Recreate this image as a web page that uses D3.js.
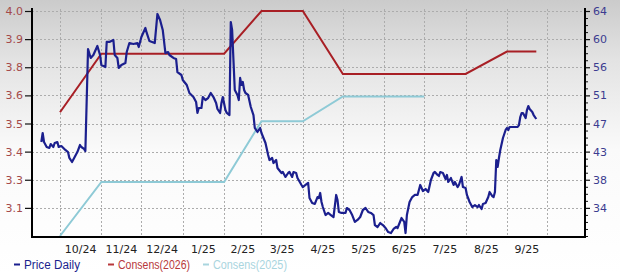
<!DOCTYPE html>
<html><head><meta charset="utf-8">
<script src="https://cdn.jsdelivr.net/npm/d3@7"></script>
<style>body{margin:0;background:#fff}svg{display:block}</style>
</head><body><svg id="c" width="620" height="273"></svg>
<script>
// ---- data ----
const priceDates = [
"2024-09-17","2024-09-18","2024-09-19","2024-09-21","2024-09-23","2024-09-24","2024-09-26","2024-09-27","2024-09-29","2024-09-30",
"2024-10-02","2024-10-05","2024-10-07","2024-10-08","2024-10-10","2024-10-12","2024-10-14","2024-10-16","2024-10-17","2024-10-19",
"2024-10-20","2024-10-22","2024-10-24","2024-10-26","2024-10-29","2024-10-31","2024-11-01","2024-11-04","2024-11-05","2024-11-07",
"2024-11-10","2024-11-11","2024-11-13","2024-11-14","2024-11-16","2024-11-19","2024-11-20","2024-11-22","2024-11-25","2024-11-28",
"2024-11-29","2024-12-01","2024-12-04","2024-12-05","2024-12-07","2024-12-09","2024-12-11","2024-12-13","2024-12-15","2024-12-17",
"2024-12-19","2024-12-21","2024-12-22","2024-12-25","2024-12-27","2024-12-28","2024-12-31","2025-01-01","2025-01-04","2025-01-06",
"2025-01-09","2025-01-11","2025-01-12","2025-01-13","2025-01-15","2025-01-16","2025-01-18","2025-01-20","2025-01-22","2025-01-24",
"2025-01-26","2025-01-27","2025-01-29","2025-01-30","2025-01-31","2025-02-02","2025-02-03","2025-02-05","2025-02-06","2025-02-07",
"2025-02-08","2025-02-09","2025-02-11","2025-02-12","2025-02-13","2025-02-14","2025-02-15","2025-02-16","2025-02-17","2025-02-19",
"2025-02-21","2025-02-23","2025-02-24","2025-02-26","2025-02-27","2025-02-28","2025-03-01","2025-03-04","2025-03-06","2025-03-07",
"2025-03-09","2025-03-10","2025-03-12","2025-03-13","2025-03-16","2025-03-17","2025-03-19","2025-03-21","2025-03-22","2025-03-24",
"2025-03-25","2025-03-27","2025-03-28","2025-03-31","2025-04-01","2025-04-03","2025-04-05","2025-04-06","2025-04-08","2025-04-10",
"2025-04-12","2025-04-13","2025-04-14","2025-04-15","2025-04-16","2025-04-18","2025-04-20","2025-04-22","2025-04-24","2025-04-26",
"2025-04-27","2025-04-28","2025-04-30","2025-05-03","2025-05-04","2025-05-06","2025-05-08","2025-05-10","2025-05-12","2025-05-14",
"2025-05-16","2025-05-18","2025-05-20","2025-05-22","2025-05-24","2025-05-25","2025-05-27","2025-05-29","2025-05-31","2025-06-02",
"2025-06-04","2025-06-06","2025-06-08","2025-06-10","2025-06-11","2025-06-14","2025-06-16","2025-06-17","2025-06-18","2025-06-20",
"2025-06-22","2025-06-24","2025-06-26","2025-06-28","2025-06-29","2025-06-30","2025-07-02","2025-07-04","2025-07-06","2025-07-08",
"2025-07-09","2025-07-11","2025-07-12","2025-07-13","2025-07-15","2025-07-17","2025-07-18","2025-07-19","2025-07-21","2025-07-23",
"2025-07-24","2025-07-26","2025-07-27","2025-07-29","2025-07-30","2025-08-01","2025-08-02","2025-08-04","2025-08-06","2025-08-08",
"2025-08-10","2025-08-11","2025-08-13","2025-08-14","2025-08-16","2025-08-18","2025-08-19","2025-08-21","2025-08-22","2025-08-23",
"2025-08-24","2025-08-25","2025-08-26","2025-08-27","2025-08-29","2025-08-31","2025-09-01","2025-09-02","2025-09-03","2025-09-06",
"2025-09-09","2025-09-10","2025-09-11","2025-09-12","2025-09-13","2025-09-15","2025-09-16","2025-09-17","2025-09-18","2025-09-20",
"2025-09-21","2025-09-23"];
const priceValues = [
44.20,45.56,44.20,43.45,43.30,43.90,43.45,44.05,44.20,43.45,
43.60,43.00,42.69,41.79,41.18,41.94,42.69,43.75,43.45,43.15,
42.84,58.26,56.90,57.35,58.71,57.35,55.84,55.54,59.32,59.32,
59.62,57.35,56.90,55.39,55.84,56.14,57.80,59.16,59.01,59.16,
58.56,60.07,61.43,60.68,59.47,59.32,59.16,63.55,62.64,61.13,
57.65,57.80,57.35,56.90,56.75,54.78,54.33,53.57,52.82,51.61,
51.00,50.25,48.59,49.34,49.34,51.00,50.55,50.85,51.61,51.00,
50.10,49.19,48.59,50.10,51.00,49.04,48.59,48.28,62.34,61.13,
56.60,52.06,51.31,50.55,53.88,52.82,53.27,52.06,51.61,51.31,
49.49,48.28,46.32,45.72,46.02,46.32,45.56,44.05,42.24,41.48,
41.79,41.03,41.48,40.28,39.52,39.67,38.92,39.52,39.67,38.92,
39.67,39.52,38.76,37.71,37.40,37.71,38.01,35.74,34.99,34.84,
35.89,35.74,36.50,35.14,34.38,33.17,33.48,33.17,32.87,36.20,
35.44,33.63,33.48,33.48,34.23,33.93,33.17,32.12,32.42,32.87,
33.93,34.23,33.63,33.48,33.17,31.66,31.36,31.96,31.66,31.21,
30.60,30.45,31.06,31.36,31.21,32.72,32.12,30.45,33.17,35.14,
35.89,36.20,36.20,37.71,37.25,36.80,37.10,36.65,38.46,39.52,
39.67,39.22,39.07,39.67,39.52,38.61,39.22,38.16,38.76,37.71,
38.16,37.40,37.71,38.92,37.40,37.25,36.20,35.14,34.38,34.68,
34.38,34.68,34.08,34.84,34.99,35.89,36.65,36.04,35.89,36.65,
41.48,40.43,41.79,43.00,44.81,46.02,46.32,46.02,46.47,46.47,
46.47,46.77,47.98,48.59,48.59,47.83,49.04,49.64,49.19,48.74,
48.28,47.68];

const cons2026Dates = ["2024-10-01","2024-11-01","2024-12-01","2025-01-01","2025-02-01","2025-03-01","2025-04-01","2025-05-01","2025-06-01","2025-07-01","2025-08-01","2025-09-01","2025-09-23"];
const cons2026 = [3.55,3.81,3.81,3.81,3.81,4.00,4.00,3.72,3.72,3.72,3.72,3.82,3.82];
const cons2025Dates = ["2024-10-01","2024-11-01","2024-12-01","2025-01-01","2025-02-01","2025-03-01","2025-04-01","2025-05-01","2025-06-01","2025-07-01"];
const cons2025 = [3.00,3.24,3.24,3.24,3.24,3.51,3.51,3.62,3.62,3.62];

const monthLabels = ["10/24","11/24","12/24","1/25","2/25","3/25","4/25","5/25","6/25","7/25","8/25","9/25"];
const leftTickValues = [3.125,3.25,3.375,3.5,3.625,3.75,3.875,4.0];
const leftTickLabels = ["3.1","3.3","3.4","3.5","3.6","3.8","3.9","4.0"];
const rightTickValues = [34.25,38.5,42.75,47,51.25,55.5,59.75,64];
const rightTickLabels = ["34","38","43","47","51","56","60","64"];
const legendItems = ["Price Daily","Consens(2026)","Consens(2025)"];

// ---- chart ----
const parse = d3.utcParse("%Y-%m-%d");
const svg = d3.select("#c");
const W = 620, H = 273;
const L = 32, R = 585, T = 11, B = 236;

const defs = svg.append("defs");
const grad = defs.append("linearGradient").attr("id","bg").attr("x1",0).attr("y1",0).attr("x2",0).attr("y2",1);
grad.append("stop").attr("offset","0").attr("stop-color","#cbcbcb");
grad.append("stop").attr("offset","0.22").attr("stop-color","#e3e3e3");
grad.append("stop").attr("offset","0.55").attr("stop-color","#fafafa");
grad.append("stop").attr("offset","1").attr("stop-color","#ffffff");
svg.append("rect").attr("width",W).attr("height",H).attr("fill","url(#bg)");

const x = d3.scaleUtc().domain([new Date(Date.UTC(2024,8,10)), new Date(Date.UTC(2025,9,29,12))]).range([L,R]);
const yL = d3.scaleLinear().domain([3.0,4.0]).range([B,T]);
const yR = d3.scaleLinear().domain([30,64]).range([B,T]);

// grid
const months = d3.utcMonth.range(new Date(Date.UTC(2024,9,1)), new Date(Date.UTC(2025,9,2)));
const grid = svg.append("g").attr("stroke","#acacac").attr("stroke-width",1).attr("stroke-dasharray","2,2").attr("fill","none");
grid.selectAll("line.h").data(leftTickValues).join("line").attr("class","h")
  .attr("x1",L).attr("x2",R).attr("y1",d=>Math.round(yL(d))+0.5).attr("y2",d=>Math.round(yL(d))+0.5);
grid.selectAll("line.v").data(months).join("line").attr("class","v")
  .attr("x1",d=>Math.round(x(d))+0.5).attr("x2",d=>Math.round(x(d))+0.5).attr("y1",T-2).attr("y2",B);

// lines
defs.append("clipPath").attr("id","pc").append("rect").attr("x",L).attr("y",T-6).attr("width",R-L).attr("height",B-T+7);
const plot = svg.append("g").attr("clip-path","url(#pc)");
const lineL = d3.line().x(d=>x(d[0])).y(d=>yL(d[1]));
const lineR = d3.line().x(d=>x(d[0])).y(d=>yR(d[1]));
plot.append("path").datum(cons2025Dates.map((d,i)=>[parse(d),cons2025[i]]))
  .attr("d",lineL).attr("fill","none").attr("stroke","#8ecad6").attr("stroke-width",2);
plot.append("path").datum(cons2026Dates.map((d,i)=>[parse(d),cons2026[i]]))
  .attr("d",lineL).attr("fill","none").attr("stroke","#a81f25").attr("stroke-width",2);
plot.append("path").datum(priceDates.map((d,i)=>[parse(d),priceValues[i]]))
  .attr("d",lineR).attr("fill","none").attr("stroke","#1b1f8e").attr("stroke-width",2.2).attr("stroke-linejoin","round");

// axes
const axFont = "DejaVu Sans, Verdana, sans-serif";
const gl = svg.append("g").attr("transform",`translate(${L},0)`)
  .call(d3.axisLeft(yL).tickValues(leftTickValues).tickFormat((d,i)=>leftTickLabels[i]).tickSize(7).tickPadding(2));
gl.select(".domain").remove();
gl.selectAll(".tick line").attr("stroke","#111").attr("stroke-width",1.2);
gl.selectAll(".tick text").attr("fill","#a44a4a").style("font-family",axFont).style("font-size","11px");

const minorR = d3.range(0,33).map(i=>30+i*1.0625).filter(v=>!rightTickValues.some(t=>Math.abs(t-v)<1e-6));
const grm = svg.append("g").attr("transform",`translate(${R},0)`)
  .call(d3.axisRight(yR).tickValues(minorR).tickFormat("").tickSize(3));
grm.select(".domain").remove();
grm.selectAll(".tick line").attr("stroke","#111").attr("stroke-width",1);
const gr = svg.append("g").attr("transform",`translate(${R},0)`)
  .call(d3.axisRight(yR).tickValues(rightTickValues).tickFormat((d,i)=>rightTickLabels[i]).tickSize(5).tickPadding(3));
gr.select(".domain").remove();
gr.selectAll(".tick line").attr("stroke","#111").attr("stroke-width",1.2);
gr.selectAll(".tick text").attr("fill","#3c3c90").style("font-family",axFont).style("font-size","11px");

// axis lines
svg.append("line").attr("x1",L).attr("x2",L).attr("y1",T-3).attr("y2",B+2).attr("stroke","#000").attr("stroke-width",2);
svg.append("line").attr("x1",R).attr("x2",R).attr("y1",T-3).attr("y2",B+2).attr("stroke","#000").attr("stroke-width",2);
svg.append("line").attr("x1",L-1).attr("x2",R+1).attr("y1",B+1).attr("y2",B+1).attr("stroke","#000").attr("stroke-width",2);

// month labels
svg.append("g").selectAll("text").data(monthLabels).join("text")
  .attr("x",(d,i)=>(x(months[i])+x(months[i+1]))/2).attr("y",253)
  .attr("text-anchor","middle").attr("fill","#222")
  .style("font-family",axFont).style("font-size","11px").text(d=>d);

// legend
const legColors = ["#1b1f8e","#b8383b","#a9d5de"];
const legX = [14,108,203];
const legLen = [56,72,74];
const lg = svg.append("g");
legendItems.forEach((t,i)=>{
  lg.append("line").attr("x1",legX[i]).attr("x2",legX[i]+6).attr("y1",264.5).attr("y2",264.5)
    .attr("stroke",legColors[i]).attr("stroke-width",2);
  lg.append("text").attr("x",legX[i]+10).attr("y",268.5).attr("fill",legColors[i])
    .attr("textLength",legLen[i]).attr("lengthAdjust","spacingAndGlyphs")
    .style("font-family","Liberation Sans, Arial, sans-serif").style("font-size","12px").text(t);
});
</script></body></html>
